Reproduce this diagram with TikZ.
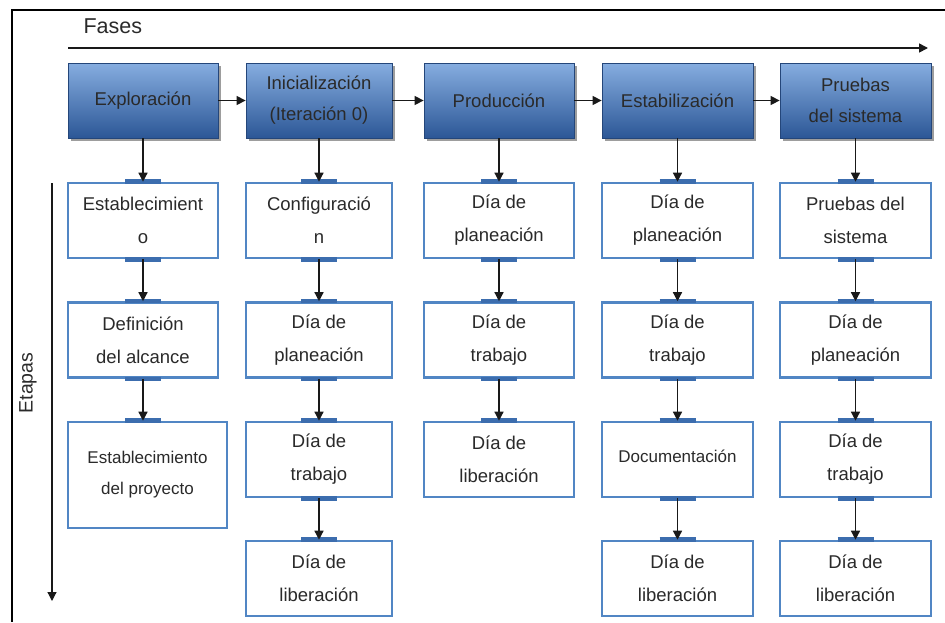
\documentclass[tikz,border=0pt]{standalone}
\usepackage{fontspec}
\setmainfont{Liberation Sans}
\usetikzlibrary{arrows.meta,shadows}
\definecolor{txt}{HTML}{2A2A2A}
\definecolor{hdtop}{HTML}{86ADE0}
\definecolor{hdmid}{HTML}{4F81C4}
\definecolor{hdbot}{HTML}{2C5796}
\definecolor{hdline}{HTML}{24467A}
\definecolor{boxblue}{HTML}{5186C4}
\definecolor{tabblue}{HTML}{3C6DAE}
\tikzset{
  header/.style={rectangle, draw=hdline, line width=0.8pt, top color=hdtop, middle color=hdmid, bottom color=hdbot,
    minimum width=150pt, minimum height=75pt, inner sep=2pt, align=center, text=txt,
    font=\fontsize{18.5}{31}\selectfont,
    drop shadow={shadow xshift=2.5pt, shadow yshift=-2.5pt, opacity=0.55, fill=black!70}},
  subbox/.style={rectangle, draw=boxblue, line width=2.6pt, fill=white,
    minimum width=150pt, minimum height=75pt, inner sep=2pt, align=center, text=txt,
    font=\fontsize{18.5}{33}\selectfont},
  smalltxt/.style={font=\fontsize{17}{31}\selectfont},
  conn/.style={draw=black!90, line width=1.4pt, -{Triangle[length=9pt,width=9pt]}},
  tabline/.style={draw=tabblue, line width=4.5pt},
  frame/.style={draw=black, line width=2.6pt},
}
\begin{document}
\begin{tikzpicture}[x=1pt,y=-1pt]
\useasboundingbox (0,0) rectangle (945,622);
% frame
\draw[frame] (945,10) -- (12,10) -- (12,622);
% Fases
\node[anchor=west, text=txt, font=\fontsize{21.5}{24}\selectfont] (fases) at (80,26) {Fases};
\coordinate (fs) at (68,48);
\coordinate (fe) at (928,48);
\draw[conn, line width=1.6pt] (fs) -- (fe);
% Etapas
\node[rotate=90, text=txt, font=\fontsize{19.5}{22}\selectfont] (etapas) at (28,383) {Etapas};
\coordinate (es) at (52,183);
\coordinate (ee) at (52,601);
\draw[conn, line width=1.2pt] (es) -- (ee);
% headers
\node[header] (h1) at (143,100.5) {Exploración};
\node[header, minimum width=146pt] (h2) at (319,100.5) {Inicialización\\(Iteración 0)};
\node[header] (h3) at (499,100.5) {Producción};
\node[header, minimum width=151pt] (h4) at (677.5,100.5) {Estabilización};
\node[header, minimum width=151pt] (h5) at (855.5,100.5) {Pruebas\\del sistema};
\foreach \a/\b in {h1/h2,h2/h3,h3/h4,h4/h5} \draw[conn] (\a) -- (\b);
% column 1
\node[subbox] (a1) at (143,220.5) {Establecimient\\o};
\node[subbox] (a2) at (143,340) {Definición\\del alcance};
\node[subbox, smalltxt, minimum width=159pt, minimum height=106pt] (a3) at (147.5,475) {\raisebox{4pt}{Establecimiento}\\\raisebox{4pt}{del proyecto}};
% column 2
\node[subbox, minimum width=146pt] (b1) at (319,220.5) {Configuració\\n};
\node[subbox, minimum width=146pt] (b2) at (319,340) {Día de\\planeación};
\node[subbox, minimum width=146pt] (b3) at (319,459.5) {Día de\\trabajo};
\node[subbox, minimum width=146pt] (b4) at (319,578.5) {Día de\\liberación};
% column 3
\node[subbox] (c1) at (499,220.5) {Día de\\planeación};
\node[subbox] (c2) at (499,340) {Día de\\trabajo};
\node[subbox] (c3) at (499,459.5) {Día de\\liberación};
% column 4
\node[subbox, minimum width=151pt] (d1) at (677.5,220.5) {Día de\\planeación};
\node[subbox, minimum width=151pt] (d2) at (677.5,340) {Día de\\trabajo};
\node[subbox, smalltxt, minimum width=151pt] (d3) at (677.5,459.5) {\raisebox{7pt}{Documentación}};
\node[subbox, minimum width=151pt] (d4) at (677.5,578.5) {Día de\\liberación};
% column 5
\node[subbox, minimum width=151pt] (e1) at (855.5,220.5) {Pruebas del\\sistema};
\node[subbox, minimum width=151pt] (e2) at (855.5,340) {Día de\\planeación};
\node[subbox, minimum width=151pt] (e3) at (855.5,459.5) {Día de\\trabajo};
\node[subbox, minimum width=151pt] (e4) at (855.5,578.5) {Día de\\liberación};
% tabs at connection points
\foreach \n in {a1,a2,b1,b2,b3,b4,c1,c2,c3,d1,d2,d3,d4,e1,e2,e3,e4}
  \draw[tabline] ([xshift=-18pt]\n.north) -- ([xshift=18pt]\n.north);
\draw[tabline] ([xshift=-18pt]a2.south |- a3.north) -- ([xshift=18pt]a2.south |- a3.north);
\foreach \n in {a1,a2,b1,b2,b3,c1,c2,d1,d2,d3,e1,e2,e3}
  \draw[tabline] ([xshift=-18pt]\n.south) -- ([xshift=18pt]\n.south);
% vertical connectors
\foreach \a/\b in {h1/a1,a1/a2,h2/b1,b1/b2,b2/b3,b3/b4,h3/c1,c1/c2,c2/c3,h4/d1,d1/d2,d2/d3,d3/d4,h5/e1,e1/e2,e2/e3,e3/e4}
  \draw[conn] (\a) -- (\b);
\draw[conn] (a2.south) -- (a2.south |- a3.north);
\end{tikzpicture}
\end{document}
